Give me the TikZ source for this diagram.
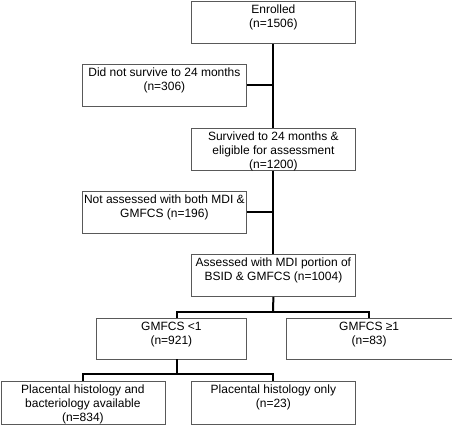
\documentclass[tikz,border=0pt]{standalone}
\usepackage{fontspec}
\setmainfont{Liberation Sans}
\begin{document}
\begin{tikzpicture}[x=1pt,y=-1pt,
  box/.style={draw=black!65, line width=0.8pt, inner sep=0pt, anchor=north west},
  txt/.style={anchor=north, inner sep=0pt, align=center, font=\fontsize{12}{14}\selectfont},
  conn/.style={draw=black, line width=2pt}]
\useasboundingbox (0,0) rectangle (452,424);
\newcommand{\flowbox}[6]{%
  \node[box, minimum width=#4pt, minimum height=#5pt] (#1) at (#2,#3) {};
  \node[txt] (#1t) at ([yshift=-4pt]#1.north) {#6};}
\flowbox{en}{191}{0.5}{164}{42.5}{Enrolled\\(n=1506)}
\flowbox{dn}{82}{64}{164}{42}{Did not survive to 24 months\\(n=306)}
\flowbox{su}{191}{127.5}{164}{42.5}{Survived to 24 months \&\\eligible for assessment\\(n=1200)}
\flowbox{na}{82}{191}{164}{42}{Not assessed with both MDI \&\\GMFCS (n=196)}
\flowbox{as}{191}{254}{164}{42}{Assessed with MDI portion of\\BSID \& GMFCS (n=1004)}
\flowbox{ga}{96}{318}{150}{41}{GMFCS \textless1\\(n=921)}
\flowbox{gb}{286}{318}{165.5}{41}{GMFCS ≥1\\(n=83)}
\flowbox{pa}{0.5}{381}{164}{42.5}{Placental histology and\\bacteriology available\\(n=834)}
\flowbox{pb}{191}{381}{164}{42.5}{Placental histology only\\(n=23)}
% main spine
\draw[conn] (en.south) -- (su.north);
\draw[conn] (dn.east) -- (dn.east -| en.south);
\draw[conn] (su.south) -- (as.south |- as.north);
\draw[conn] (na.east) -- (na.east -| su.south);
% split to GMFCS
\coordinate (gaj) at (177,318);
\coordinate (sp) at (273,311.5);
\draw[conn] (as.south) -- (sp);
\draw[conn] (gaj) -- (gaj |- sp) -- (gb.north |- sp) -- (gb.north);
% split to placental
\coordinate (gbot) at (177,359);
\coordinate (sp2) at (177,374);
\draw[conn] (gbot) -- (sp2);
\draw[conn] (pa.north) -- (pa.north |- sp2) -- (pb.north |- sp2) -- (pb.north);
\end{tikzpicture}
\end{document}
